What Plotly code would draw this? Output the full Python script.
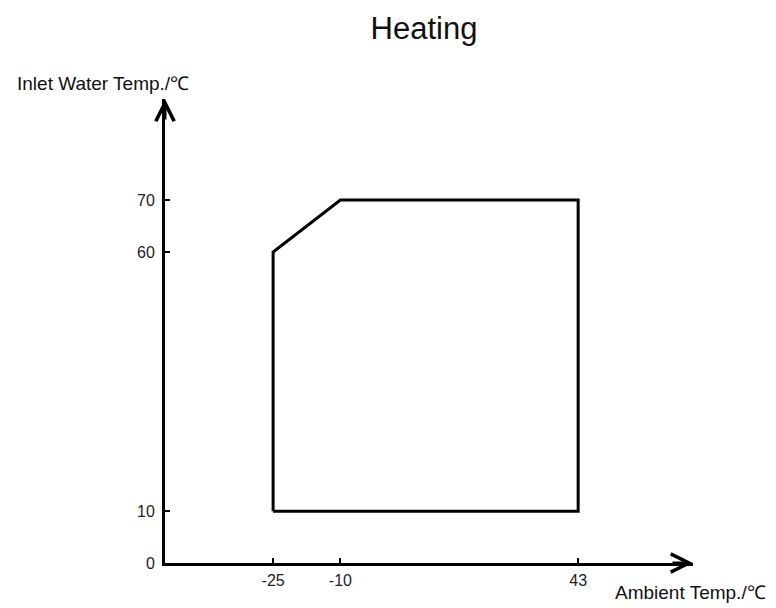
import plotly.graph_objects as go

# Operating envelope (heating)
ambient_temp = [-25, -25, -10, 43, 43, -25]
inlet_water_temp = [10, 60, 70, 70, 10, 10]

x_ticks = [-25, -10, 43]
y_ticks = [0, 10, 60, 70]

FONT = "Liberation Sans, Arial, sans-serif"

# page has an 8px body margin; plot area on screen spans x 165..693, y 99..563
L, T, R, B = 157, 91, 91, 53
PW = 776 - L - R
PH = 608 - T - B


def px_x(X):
    return (X - 165) / PW


def px_y(Y):
    return (563 - Y) / PH


fig = go.Figure()
fig.add_trace(go.Scatter(
    x=ambient_temp, y=inlet_water_temp, mode="lines",
    line=dict(color="black", width=3), hoverinfo="skip", showlegend=False,
))

fig.update_layout(
    width=776, height=608,
    margin=dict(l=L, r=R, t=T, b=B),
    paper_bgcolor="white", plot_bgcolor="white",
    title=dict(text="Heating", x=(424 - 8) / 776, xanchor="center",
               y=1 - 20 / 608, yanchor="middle",
               font=dict(family=FONT, size=31, color="#111")),
    xaxis=dict(range=[-49.1, 68.6], tickvals=x_ticks, ticktext=[str(v) for v in x_ticks],
               showgrid=False, zeroline=False, showline=True, linecolor="black", linewidth=3,
               ticks="inside", ticklen=5, tickwidth=2, tickcolor="black",
               tickfont=dict(family=FONT, size=16, color="#222"), ticklabelstandoff=1,
               fixedrange=True),
    yaxis=dict(range=[0, 89.5], tickvals=y_ticks, ticktext=[str(v) for v in y_ticks],
               showgrid=False, zeroline=False, showline=True, linecolor="black", linewidth=3,
               ticks="inside", ticklen=5, tickwidth=2, tickcolor="black",
               tickfont=dict(family=FONT, size=16, color="#222"), ticklabelstandoff=4,
               fixedrange=True),
    annotations=[
        dict(x=1, y=0, xref="paper", yref="paper", ax=-22, ay=0, text="",
             showarrow=True, arrowhead=5, arrowsize=1.2, arrowwidth=3, arrowcolor="black"),
        dict(x=0, y=1, xref="paper", yref="paper", ax=0, ay=22, text="",
             showarrow=True, arrowhead=5, arrowsize=1.2, arrowwidth=3, arrowcolor="black"),
        dict(x=px_x(15), y=px_y(84), xref="paper", yref="paper", text="Inlet Water Temp./℃",
             showarrow=False, font=dict(family=FONT, size=19, color="#111"),
             xanchor="left", yanchor="middle"),
        dict(x=px_x(613), y=px_y(592), xref="paper", yref="paper", text="Ambient Temp./℃",
             showarrow=False, font=dict(family=FONT, size=19, color="#111"),
             xanchor="left", yanchor="middle"),
    ],
)

fig.write_html("out.html")
